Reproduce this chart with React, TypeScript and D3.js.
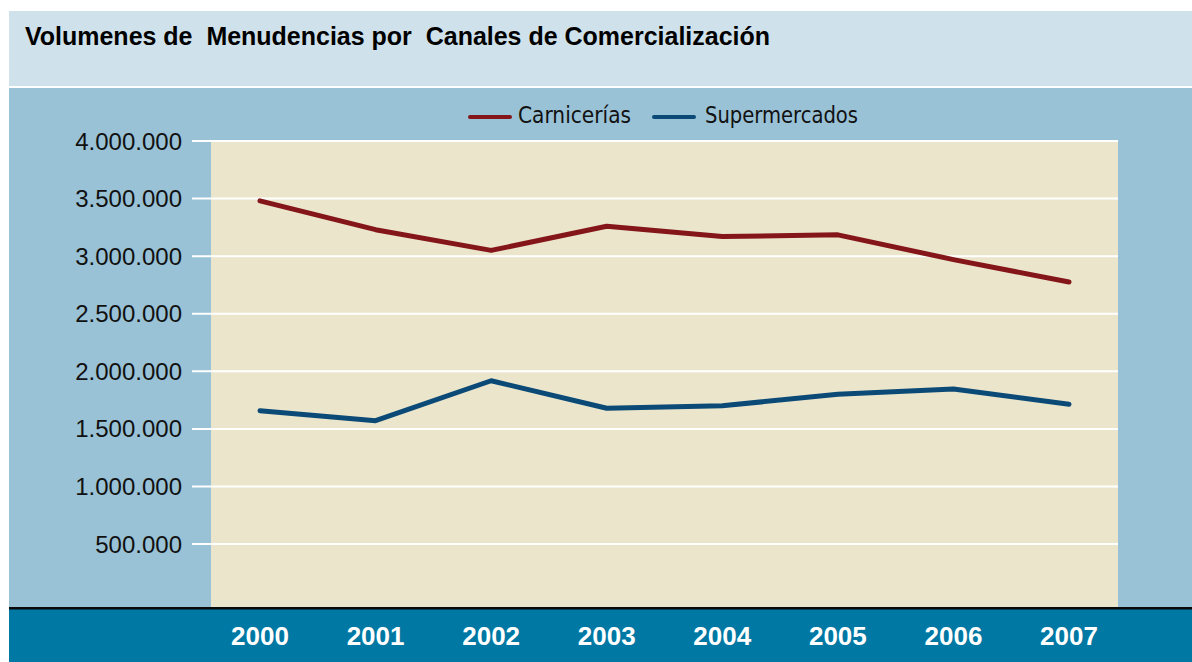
import React from 'react';
import * as d3 from 'd3';

const years = ['2000', '2001', '2002', '2003', '2004', '2005', '2006', '2007'];
const carnicerias = [3480000, 3230000, 3050000, 3260000, 3170000, 3185000, 2970000, 2775000];
const supermercados = [1658000, 1571000, 1918000, 1679000, 1701000, 1800000, 1846000, 1714000];
const yTicks = [500000, 1000000, 1500000, 2000000, 2500000, 3000000, 3500000, 4000000];

const W = 1192;
const H = 662;

const series = [
  { name: 'Carnicerías', values: carnicerias, color: '#84161a', lx: 470, tx: 518, tw: 113 },
  { name: 'Supermercados', values: supermercados, color: '#0b4a76', lx: 654, tx: 705, tw: 153 },
];

const fmt = (v: number) => d3.format(',')(v).replace(/,/g, '.');

export default function App() {
  const plot = { left: 211, right: 1118, top: 140, bottom: 607 };
  const x = d3.scalePoint<string>().domain(years).range([260, 1069]);
  const y = d3.scaleLinear().domain([0, 4000000]).range([601.6, 141]);

  const line = d3
    .line<number>()
    .x((_, i) => x(years[i]) as number)
    .y((d) => y(d));

  return (
    <svg width={W} height={H} style={{ position: 'absolute', left: 0, top: 0 }}>
      <rect x={0} y={0} width={W} height={H} fill="#ffffff" />
      {/* title box */}
      <rect x={9} y={11} width={W - 9} height={75} fill="#cfe1ea" />
      <text
        x={25}
        y={45}
        fontFamily="'Liberation Sans', Arial, sans-serif"
        fontWeight="bold"
        fontSize={25}
        fill="#000"
        textLength={745}
        lengthAdjust="spacingAndGlyphs"
        style={{ whiteSpace: 'pre' }}
      >
        {'Volumenes de  Menudencias por  Canales de Comercialización'}
      </text>

      {/* main panel */}
      <rect x={9} y={88} width={W - 9} height={plot.bottom - 88} fill="#99c2d6" />
      <rect
        x={plot.left}
        y={plot.top}
        width={plot.right - plot.left}
        height={plot.bottom - plot.top}
        fill="#ebe5cc"
      />

      {/* grid + y labels */}
      {yTicks.map((t) => (
        <g key={t}>
          <line x1={192} x2={plot.right} y1={y(t)} y2={y(t)} stroke="#ffffff" strokeWidth={2} />
          <text
            x={182}
            y={y(t) + 8.5}
            textAnchor="end"
            fontFamily="'Liberation Sans', Arial, sans-serif"
            fontSize={24}
            fill="#111"
          >
            {fmt(t)}
          </text>
        </g>
      ))}

      {/* legend */}
      <g fontFamily="'Liberation Sans Narrow', 'DejaVu Sans Condensed', sans-serif" fontSize={23} fill="#111">
        {series.map((s) => (
          <g key={s.name}>
            <line x1={s.lx} x2={s.lx + 40} y1={117} y2={117} stroke={s.color} strokeWidth={4} strokeLinecap="round" />
            <text x={s.tx} y={123} textLength={s.tw} lengthAdjust="spacingAndGlyphs">
              {s.name}
            </text>
          </g>
        ))}
      </g>

      {/* lines */}
      {series.map((s) => (
        <path
          key={s.name}
          d={line(s.values) || ''}
          fill="none"
          stroke={s.color}
          strokeWidth={5}
          strokeLinecap="round"
          strokeLinejoin="round"
        />
      ))}

      {/* bottom band */}
      <rect x={9} y={plot.bottom} width={W - 9} height={H - plot.bottom} fill="#0078a4" />
      <rect x={9} y={plot.bottom} width={W - 9} height={2.5} fill="#0a0a0a" />
      {years.map((yr) => (
        <text
          key={yr}
          x={x(yr)}
          y={645}
          textAnchor="middle"
          fontFamily="'Liberation Sans', Arial, sans-serif"
          fontWeight="bold"
          fontSize={26}
          fill="#ffffff"
        >
          {yr}
        </text>
      ))}
    </svg>
  );
}
